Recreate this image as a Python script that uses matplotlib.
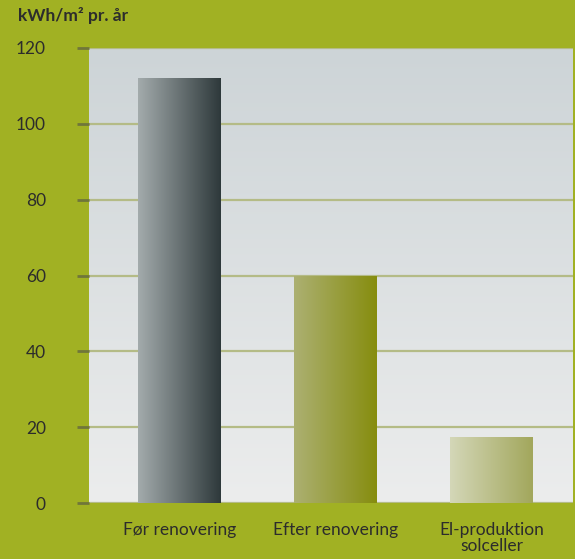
import numpy as np
import matplotlib
matplotlib.use("Agg")
import matplotlib.pyplot as plt
from matplotlib.colors import LinearSegmentedColormap

# data
categories = ["Før renovering", "Efter renovering", "El-produktion\nsolceller"]
values = [112, 60, 17.5]
yticks = [0, 20, 40, 60, 80, 100, 120]

# gradient colours per bar (left -> right)
bar_grads = [
    ("#a3abac", "#2e393b"),
    ("#acb072", "#868d0e"),
    ("#d4d7b8", "#a2a75c"),
]

plt.rcParams['font.family'] = ['Lato', 'DejaVu Sans']

fig = plt.figure(figsize=(5.75, 5.59), dpi=100)
fig.patch.set_facecolor("#a1b123")
ax = fig.add_axes([89/575, 1-503/559, 484/575, 455/559])
ax.set_xlim(-0.58, 2.52)
ax.set_ylim(0, 120)

# plot background: soft vertical gradient
bg = LinearSegmentedColormap.from_list("bg", ["#eceded", "#cdd4d7"])
ax.imshow(np.linspace(0, 1, 256).reshape(-1, 1), cmap=bg, aspect="auto",
          extent=[-0.58, 2.52, 0, 120], origin="lower", zorder=0)

for y in yticks:
    ax.axhline(y, color="#b4bb86", lw=1.6, zorder=1)

x = np.arange(len(categories))
bars = ax.bar(x, values, width=0.53, color="none", zorder=2)
grad = np.linspace(0, 1, 256).reshape(1, -1)
for b, (c0, c1) in zip(bars, bar_grads):
    cm = LinearSegmentedColormap.from_list("g", [c0, c1])
    im = ax.imshow(grad, cmap=cm, aspect="auto", zorder=3,
                   extent=[b.get_x(), b.get_x() + b.get_width(), 0, b.get_height()])
    im.set_clip_path(b)

ax.set_xlim(-0.58, 2.52)
ax.set_ylim(0, 120)
for s in ax.spines.values():
    s.set_visible(False)

ax.set_yticks(yticks)
ax.set_yticklabels([str(t) for t in yticks])
ax.tick_params(axis="y", length=9, width=2, color="#70763a", pad=22,
               labelsize=12.5, labelcolor="#2c2c2c")
ax.set_xticks(x)
ax.set_xticklabels(categories)
ax.tick_params(axis="x", length=0, pad=14, labelsize=12.5, labelcolor="#2c2c2c")
for lbl in ax.get_xticklabels():
    lbl.set_linespacing(1.0)

fig.text(18/575, 1-15/559, "kWh/m² pr. år", fontsize=12.5, fontweight="bold",
         color="#2c2c2c", ha="left", va="center")

fig.savefig("out.png", dpi=100, facecolor=fig.get_facecolor())
